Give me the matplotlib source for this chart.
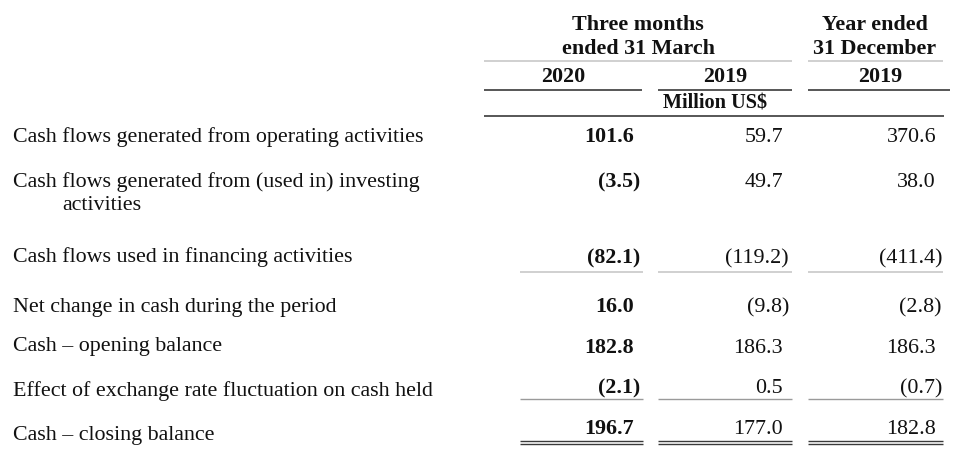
import matplotlib
matplotlib.use("Agg")
import matplotlib.pyplot as plt

# ---- data ----
row_labels = [
    "Cash flows generated from operating activities",
    "Cash flows generated from (used in) investing\n        activities",
    "Cash flows used in financing activities",
    "Net change in cash during the period",
    "Cash \u2013 opening balance",
    "Effect of exchange rate fluctuation on cash held",
    "Cash \u2013 closing balance",
]
q1_2020 = [101.6, -3.5, -82.1, 16.0, 182.8, -2.1, 196.7]
q1_2019 = [59.7, 49.7, -119.2, -9.8, 186.3, 0.5, 177.0]
fy_2019 = [370.6, 38.0, -411.4, -2.8, 186.3, -0.7, 182.8]
group_headers = ["Three months\nended 31 March", "Year ended\n31 December"]
col_years = ["2020", "2019", "2019"]
unit_label = "Million US$"

# ---- layout ----
W, H = 961, 454
fig = plt.figure(figsize=(W / 100, H / 100), dpi=100)
ax = fig.add_axes([0, 0, 1, 1])
ax.set_xlim(0, W)
ax.set_ylim(H, 0)
ax.axis("off")

FONT = "Liberation Serif"
FS = 15.8
txt = "#111111"

# group headers
for (line1, line2), cx in zip([g.split("\n") for g in group_headers], [638, 875]):
    ax.text(cx, 30, line1, ha="center", va="baseline", fontsize=FS, fontweight="bold",
            family=FONT, color=txt)
    ax.text(cx, 54, line2, ha="center", va="baseline", fontsize=FS, fontweight="bold",
            family=FONT, color=txt)

for y_txt, cx in zip(col_years, [563, 725, 880]):
    ax.text(cx, 82, y_txt, ha="center", va="baseline", fontsize=FS, fontweight="bold",
            family=FONT, color=txt)
ax.text(715, 109, unit_label, ha="center", va="baseline", fontsize=14.6, fontweight="bold",
        family=FONT, color=txt)

# header rules
light = "#c8c8c8"
dark = "#3a3a3a"
ax.hlines(61, 484, 792, color=light, lw=1.2)
ax.hlines(61, 808, 943, color=light, lw=1.2)
ax.hlines(90, 484, 642, color=dark, lw=1.2)
ax.hlines(90, 658, 792, color=dark, lw=1.2)
ax.hlines(90, 808, 950, color=dark, lw=1.2)
ax.hlines(116, 484, 944, color=dark, lw=1.2)

# rows
label_base = [142, 187, 262, 312, 351, 396, 440]
value_base = [142, 187, 263, 312, 353, 393, 434]
col_right = [634, 783, 936]
cols = [q1_2020, q1_2019, fy_2019]
col_bold = [True, False, False]

for lab, yb in zip(row_labels, label_base):
    lines = lab.split("\n")
    ax.text(13, yb, lines[0], ha="left", va="baseline", fontsize=FS, family=FONT, color=txt)
    if len(lines) > 1:
        ax.text(62, yb + 23, lines[1].strip(), ha="left", va="baseline", fontsize=FS,
                family=FONT, color=txt)

for vals, xr, bold in zip(cols, col_right, col_bold):
    fw = "bold" if bold else "normal"
    for v, yb in zip(vals, value_base):
        if v < 0:
            ax.text(xr + 6, yb, "(%.1f)" % abs(v), ha="right", va="baseline", fontsize=FS,
                    fontweight=fw, family=FONT, color=txt)
        else:
            ax.text(xr, yb, "%.1f" % v, ha="right", va="baseline", fontsize=FS, fontweight=fw,
                    family=FONT, color=txt)

# row rules
segs = [(520, 643), (658, 792), (808, 943)]
for x0, x1 in segs:
    ax.hlines(272, x0, x1, color=light, lw=1.2)
    ax.hlines(399, x0, x1, color="#9a9a9a", lw=1.0)
    ax.hlines(441, x0, x1, color=dark, lw=1.0)
    ax.hlines(444, x0, x1, color=dark, lw=1.0)

fig.savefig("out.png", dpi=100, facecolor="white")
